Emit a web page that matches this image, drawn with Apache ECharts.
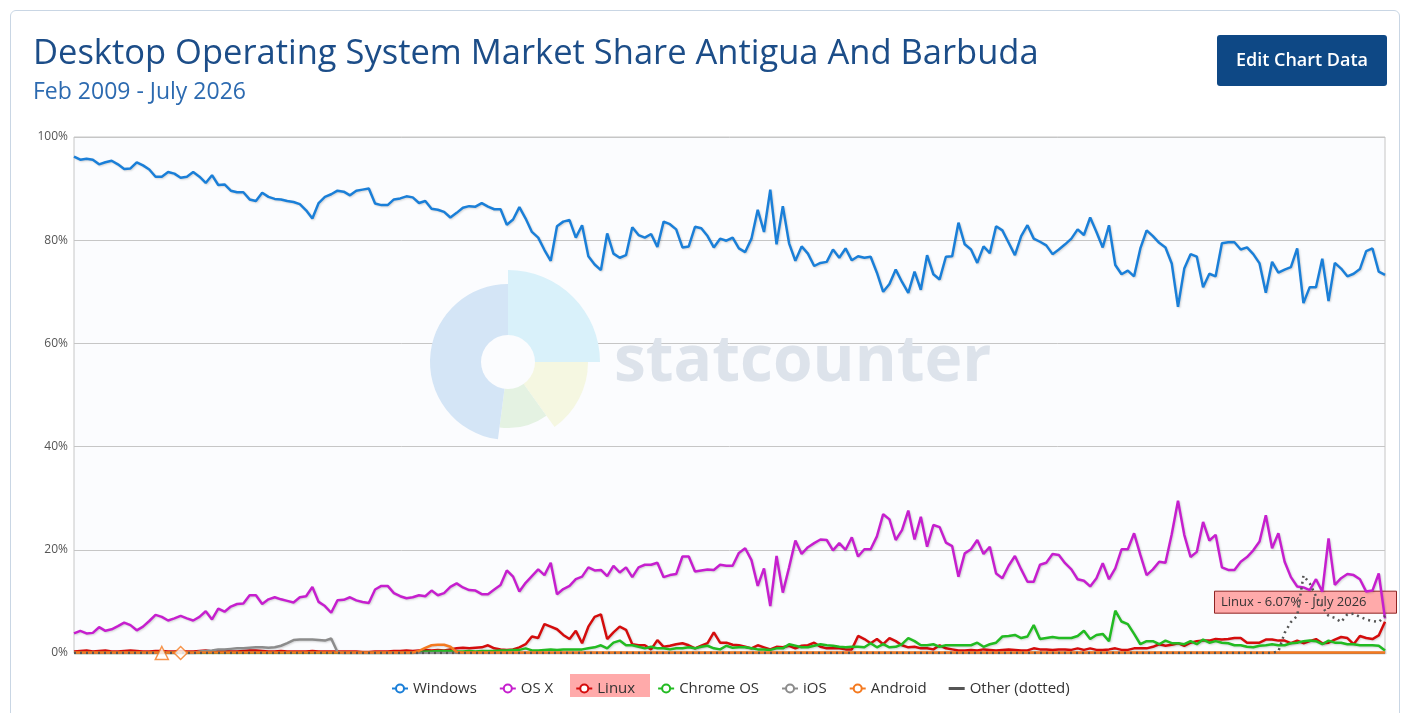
<!DOCTYPE html>
<html>
<head>
<meta charset="utf-8">
<script src="https://cdn.jsdelivr.net/npm/echarts@6.0.0/dist/echarts.min.js"></script>
<style>
  html, body { margin: 0; padding: 0; background: #fff; }
  #chart { width: 1410px; height: 713px; }
  #card {
    position: absolute; left: 10px; top: 10px; width: 1388px; height: 740px;
    border: 1px solid #c9d6e4; border-radius: 6px; pointer-events: none;
  }
</style>
</head>
<body>
<div id="chart"></div>
<div id="card"></div>
<script>
// month labels, Feb 2009 .. July 2026
const monthNames = ["Jan", "Feb", "Mar", "Apr", "May", "June", "July", "Aug", "Sept", "Oct", "Nov", "Dec"];
const months = [];
for (let y = 2009; y <= 2026; y++) {
  for (let m = 0; m < 12; m++) {
    if (y === 2009 && m < 1) continue;
    if (y === 2026 && m > 6) break;
    months.push(monthNames[m] + " " + y);
  }
}

const windows = [
  96.2, 95.6, 95.8, 95.6, 94.7, 95.1, 95.4, 94.7, 93.8, 93.9, 95.1, 94.5, 93.7, 92.3, 92.3, 93.2, 92.9, 92.1, 92.3, 93.2, 92.3, 91.1, 92.6, 90.7, 90.8, 89.6, 89.3, 89.3, 87.9, 87.6, 89.2, 88.4, 88.0, 87.9, 87.6, 87.4,
  87.0, 85.8, 84.2, 87.2, 88.4, 88.9, 89.6, 89.4, 88.7, 89.6, 89.8, 90.0, 87.1, 86.8, 86.8, 87.9, 88.1, 88.5, 88.3, 87.2, 87.6, 86.1, 85.9, 85.5, 84.4, 85.3, 86.3, 86.6, 86.5, 87.2, 86.5, 86.0, 86.0, 83.0, 84.0,
  86.4, 84.2, 81.6, 80.5, 78.1, 76.0, 82.7, 83.6, 83.9, 80.5, 82.9, 76.9, 75.3, 74.2, 81.3, 77.4, 76.6, 77.1, 82.5, 81.0, 80.5, 81.2, 78.7, 83.6, 83.1, 82.1, 78.6, 78.8, 82.6, 82.3, 80.8, 78.6, 80.3, 79.9, 80.5,
  78.4, 77.7, 80.3, 85.9, 81.6, 89.8, 79.2, 86.6, 79.4, 76.0, 78.8, 77.4, 75.0, 75.6, 75.8, 78.2, 76.6, 78.4, 76.1, 76.9, 76.6, 76.8, 73.7, 70.0, 71.5, 74.3, 71.9, 69.8, 73.9, 70.4, 77.1, 73.4, 72.4, 76.8, 76.9,
  83.4, 79.2, 78.2, 75.6, 78.8, 77.5, 82.7, 81.9, 79.5, 77.1, 80.8, 82.9, 80.3, 79.7, 79.0, 77.3, 78.2, 79.2, 80.3, 82.1, 81.0, 84.4, 81.6, 78.6, 82.9, 75.2, 73.4, 74.1, 73.0, 78.4, 81.9, 80.8, 79.5, 78.6, 75.5,
  67.1, 74.5, 77.3, 76.8, 70.9, 73.5, 73.0, 79.4, 79.6, 79.6, 78.2, 78.6, 77.3, 75.5, 69.8, 75.8, 73.7, 74.3, 74.8, 78.4, 67.8, 70.9, 70.9, 76.4, 68.2, 75.6, 74.5, 73.0, 73.5, 74.4, 77.9, 78.4, 73.9, 73.3
];

const osx = [
  3.8, 4.3, 3.8, 3.9, 5.0, 4.3, 4.6, 5.2, 5.9, 5.4, 4.4, 5.1, 6.2, 7.4, 7.0, 6.3, 6.7, 7.2, 6.7, 6.3, 7.0, 8.1, 6.5, 8.6, 8.0, 9.0, 9.5, 9.6, 11.2, 11.2, 9.5, 10.4, 10.8, 10.4, 10.1, 9.8,
  10.8, 11.0, 12.8, 9.9, 9.1, 7.8, 10.2, 10.3, 10.8, 10.2, 9.9, 9.7, 12.3, 13.0, 13.0, 11.6, 11.0, 10.6, 10.8, 11.2, 11.0, 12.1, 11.2, 11.6, 12.8, 13.5, 12.7, 12.2, 12.1, 11.4, 11.4, 12.3, 13.2, 16.0, 14.8,
  11.9, 13.6, 14.9, 16.2, 15.1, 17.5, 11.4, 12.4, 13.0, 14.3, 14.8, 16.6, 16.0, 16.1, 14.9, 16.9, 15.6, 16.6, 14.7, 16.6, 17.1, 17.1, 17.5, 14.7, 15.1, 15.3, 18.7, 18.7, 15.8, 16.0, 16.2, 16.1, 17.1, 16.9, 16.9,
  19.4, 20.3, 18.0, 13.0, 16.4, 9.1, 18.8, 11.7, 16.6, 21.8, 19.2, 20.5, 21.3, 22.0, 21.9, 19.9, 21.3, 20.0, 22.4, 18.7, 20.1, 20.1, 22.6, 26.9, 25.9, 21.9, 23.8, 27.6, 22.0, 26.4, 20.6, 24.8, 24.4, 21.4, 20.7,
  14.8, 19.3, 20.1, 21.9, 19.2, 20.6, 15.4, 14.5, 16.9, 18.8, 16.2, 13.8, 13.8, 17.1, 17.5, 19.2, 19.0, 17.4, 16.2, 14.3, 14.0, 12.9, 14.5, 17.4, 14.3, 16.4, 20.1, 20.1, 23.2, 19.0, 15.1, 16.2, 17.7, 17.5, 23.0,
  29.5, 22.9, 18.6, 19.6, 25.4, 21.8, 22.9, 16.6, 16.1, 16.1, 17.7, 18.6, 19.9, 21.6, 26.7, 20.3, 23.2, 17.7, 14.7, 12.9, 12.7, 12.2, 14.3, 11.9, 22.2, 13.2, 14.5, 15.3, 15.1, 14.3, 11.9, 12.1, 15.4, 6.7
];

const linux = [
  0.3, 0.4, 0.5, 0.3, 0.4, 0.5, 0.3, 0.3, 0.4, 0.5, 0.4, 0.3, 0.3, 0.4, 0.4, 0.3, 0.3, 0.4, 0.3, 0.3, 0.4, 0.5, 0.3, 0.4, 0.4, 0.3, 0.3, 0.4, 0.5, 0.5, 0.4, 0.3, 0.3, 0.4, 0.3, 0.3,
  0.3, 0.3, 0.4, 0.3, 0.3, 0.3, 0.3, 0.3, 0.3, 0.3, 0.2, 0.2, 0.3, 0.3, 0.3, 0.4, 0.4, 0.5, 0.4, 0.5, 0.6, 0.5, 0.6, 0.5, 0.7, 0.9, 1.0, 0.9, 1.0, 1.1, 1.5, 0.9, 0.7, 0.6, 0.7,
  1.1, 1.7, 3.2, 2.9, 5.6, 5.1, 4.6, 3.5, 2.7, 4.3, 1.9, 5.1, 7.0, 7.5, 2.7, 4.0, 5.1, 4.5, 1.7, 1.5, 1.5, 0.7, 2.5, 1.2, 1.4, 1.7, 1.9, 1.5, 0.9, 1.4, 1.9, 4.0, 2.0, 2.0, 1.6,
  1.5, 1.2, 0.9, 1.5, 1.1, 0.7, 1.2, 1.1, 1.4, 0.9, 1.4, 1.5, 2.0, 1.2, 0.9, 0.9, 0.9, 0.7, 0.7, 3.3, 2.7, 1.9, 2.7, 1.7, 2.9, 2.3, 1.5, 1.1, 1.2, 0.9, 0.9, 0.7, 1.5, 0.9, 0.7,
  0.5, 0.5, 0.6, 0.5, 0.7, 0.6, 0.5, 0.6, 0.7, 0.6, 0.5, 0.5, 0.9, 0.7, 0.7, 0.6, 0.7, 0.7, 0.6, 0.9, 0.6, 0.9, 0.6, 0.6, 0.7, 0.9, 0.6, 0.6, 0.9, 0.9, 0.9, 1.2, 1.7, 1.4, 1.6,
  1.9, 1.4, 2.0, 2.3, 2.4, 2.4, 2.7, 2.6, 2.7, 2.9, 2.9, 2.0, 2.0, 2.0, 2.6, 2.6, 2.4, 2.4, 1.9, 2.4, 1.9, 2.3, 2.7, 1.9, 2.0, 2.6, 3.1, 2.9, 1.7, 3.3, 2.9, 2.7, 3.4, 6.07
];

const chromeOs = [
  0, 0, 0, 0, 0, 0, 0, 0, 0, 0, 0, 0, 0, 0, 0, 0, 0, 0, 0, 0, 0, 0, 0, 0, 0, 0, 0, 0, 0, 0, 0, 0, 0, 0, 0,
  0, 0, 0, 0, 0, 0, 0, 0, 0, 0, 0, 0, 0, 0, 0, 0, 0, 0, 0, 0, 0.2, 0.3, 0.3, 0.4, 0.4, 0.4, 0.3, 0.3, 0.4, 0.3, 0.4, 0.4, 0.4, 0.5, 0.5,
  0.6, 0.6, 0.9, 0.5, 0.5, 0.6, 0.7, 0.6, 0.7, 0.7, 0.7, 0.7, 0.9, 1.1, 1.5, 0.9, 2.0, 2.4, 1.5, 1.5, 1.2, 0.9, 1.2, 0.9, 0.9, 0.7, 0.9, 0.9, 1.1, 0.9, 1.2, 1.4, 0.9, 0.7, 1.4, 1.0,
  1.1, 1.1, 0.9, 0.7, 0.7, 0.6, 0.9, 0.9, 1.7, 1.4, 1.1, 1.1, 1.4, 1.7, 1.5, 1.4, 1.2, 1.1, 1.2, 1.2, 1.1, 1.9, 1.1, 1.7, 1.1, 1.2, 1.7, 2.9, 2.3, 1.5, 1.5, 1.7, 1.2, 1.5, 1.5,
  1.5, 1.5, 1.5, 2.0, 1.2, 1.7, 2.0, 3.2, 3.3, 3.5, 2.9, 3.2, 5.4, 2.7, 2.9, 3.1, 2.9, 2.9, 2.9, 3.3, 4.3, 2.7, 3.5, 3.7, 2.3, 8.2, 6.1, 5.6, 3.7, 1.7, 2.3, 2.3, 1.7, 2.4, 1.9,
  1.9, 1.7, 2.3, 1.7, 2.6, 2.0, 2.3, 2.0, 1.9, 1.5, 1.5, 1.2, 1.1, 1.4, 1.5, 1.7, 1.5, 1.5, 1.9, 2.0, 2.3, 2.4, 2.3, 1.7, 2.4, 2.0, 2.0, 1.7, 1.7, 1.5, 1.5, 1.5, 1.4, 0.5
];

const ios = [
  0, 0, 0, 0, 0, 0, 0, 0, 0, 0, 0, 0, 0, 0, 0, 0, 0, 0, 0, 0, 0.3, 0.4, 0.5, 0.7, 0.7, 0.8, 0.9, 0.9, 1.0, 1.1, 1.1, 1.0, 1.1, 1.4, 1.9,
  2.5, 2.6, 2.6, 2.6, 2.5, 2.4, 2.8, 0.2, 0, 0, 0, 0, 0, 0, 0, 0, 0, 0, 0, 0, 0, 0, 0, 0, 0, 0, 0, 0, 0, 0, 0, 0, 0, 0, 0,
  0, 0, 0, 0, 0, 0, 0, 0, 0, 0, 0, 0, 0, 0, 0, 0, 0, 0, 0, 0, 0, 0, 0, 0, 0, 0, 0, 0, 0, 0, 0, 0, 0, 0, 0,
  0, 0, 0, 0, 0, 0, 0, 0, 0, 0, 0, 0, 0, 0, 0, 0, 0, 0, 0, 0, 0, 0, 0, 0, 0, 0, 0, 0, 0, 0, 0, 0, 0, 0, 0,
  0, 0, 0, 0, 0, 0, 0, 0, 0, 0, 0, 0, 0, 0, 0, 0, 0, 0, 0, 0, 0, 0, 0, 0, 0, 0, 0, 0, 0, 0, 0, 0, 0, 0, 0,
  0, 0, 0, 0, 0, 0, 0, 0, 0, 0, 0, 0, 0, 0, 0, 0, 0, 0, 0, 0, 0, 0, 0, 0, 0, 0, 0, 0, 0, 0, 0, 0, 0, 0, 0
];

const android = [
  0.1, 0.1, 0.1, 0.1, 0.1, 0.1, 0.1, 0.1, 0.1, 0.1, 0.1, 0.1, 0.1, 0.1, 0.1, 0.1, 0.1, 0.1, 0.1, 0.1, 0.1, 0.1, 0.1, 0.1, 0.1, 0.1, 0.1, 0.1, 0.1, 0.1, 0.1, 0.1, 0.1, 0.1, 0.1,
  0.1, 0.1, 0.1, 0.1, 0.1, 0.1, 0.1, 0.1, 0.1, 0.1, 0.1, 0.1, 0.1, 0.1, 0.1, 0.1, 0.1, 0.1, 0.1, 0.1, 0.4, 1.0, 1.5, 1.6, 1.6, 1.2, 0.2, 0.1, 0.1, 0.1, 0.1, 0.1, 0.1, 0.1, 0.1,
  0.1, 0.1, 0.1, 0.1, 0.1, 0.1, 0.1, 0.1, 0.1, 0.1, 0.1, 0.1, 0.1, 0.1, 0.1, 0.1, 0.1, 0.1, 0.1, 0.1, 0.1, 0.1, 0.1, 0.1, 0.1, 0.1, 0.1, 0.1, 0.1, 0.1, 0.1, 0.1, 0.1, 0.1, 0.1,
  0.1, 0.1, 0.1, 0.1, 0.1, 0.1, 0.1, 0.1, 0.1, 0.1, 0.1, 0.1, 0.1, 0.1, 0.1, 0.1, 0.1, 0.1, 0.1, 0.1, 0.1, 0.1, 0.1, 0.1, 0.1, 0.1, 0.1, 0.1, 0.1, 0.1, 0.1, 0.1, 0.1, 0.1, 0.1,
  0.1, 0.1, 0.1, 0.1, 0.1, 0.1, 0.1, 0.1, 0.1, 0.1, 0.1, 0.1, 0.1, 0.1, 0.1, 0.1, 0.1, 0.1, 0.1, 0.1, 0.1, 0.1, 0.1, 0.1, 0.1, 0.1, 0.1, 0.1, 0.1, 0.1, 0.1, 0.1, 0.1, 0.1, 0.1,
  0.1, 0.1, 0.1, 0.1, 0.1, 0.1, 0.1, 0.1, 0.1, 0.1, 0.1, 0.1, 0.1, 0.1, 0.1, 0.1, 0.1, 0.1, 0.1, 0.1, 0.1, 0.1, 0.1, 0.1, 0.1, 0.1, 0.1, 0.1, 0.1, 0.1, 0.1, 0.1, 0.1, 0.1, 0.1
];

const other = [
  0, 0, 0, 0, 0, 0, 0, 0, 0, 0, 0, 0, 0, 0, 0, 0, 0, 0, 0, 0, 0, 0, 0, 0, 0, 0, 0, 0, 0, 0, 0, 0, 0, 0, 0,
  0, 0, 0, 0, 0, 0, 0, 0, 0, 0, 0, 0, 0, 0, 0, 0, 0, 0, 0, 0, 0, 0, 0, 0, 0, 0, 0, 0, 0, 0, 0, 0, 0, 0, 0,
  0, 0, 0, 0, 0, 0, 0, 0, 0, 0, 0, 0, 0, 0, 0, 0, 0, 0, 0, 0, 0, 0, 0, 0, 0, 0, 0, 0, 0, 0, 0, 0, 0, 0, 0,
  0, 0, 0, 0, 0, 0, 0, 0, 0, 0, 0, 0, 0, 0, 0, 0, 0, 0, 0, 0, 0, 0, 0, 0, 0, 0, 0, 0, 0, 0, 0, 0, 0, 0, 0,
  0, 0, 0, 0, 0, 0, 0, 0, 0, 0, 0, 0, 0, 0, 0, 0, 0, 0, 0, 0, 0, 0, 0, 0, 0, 0, 0, 0, 0, 0, 0, 0, 0, 0, 0,
  0, 0, 0, 0, 0, 0, 0, 0, 0, 0, 0, 0, 0, 0, 0, 0, 0, 0.3, 3.9, 6.0, 7.2, 15.0, 13.5, 11.0, 9.0, 7.2, 6.8, 6.0, 7.5, 7.6, 7.0, 6.5, 6.2, 6.0, 7.2
];

// isolated points drawn as markers on the baseline
const markerPoints = [["Apr 2010", 0], ["July 2010", 0]];
const markerSymbols = ["triangle", "diamond"];

const yTicks = { min: 0, max: 100, interval: 20 };

const font = "'Open Sans', 'DejaVu Sans', sans-serif";

function lineSeries(name, data, color, extra) {
  return Object.assign({
    name: name,
    type: "line",
    data: data,
    symbol: "emptyCircle",
    symbolSize: 9,
    showSymbol: false,
    lineStyle: {
      width: 2.5, color: color,
      shadowColor: "rgba(0,0,0,0.16)", shadowBlur: 2, shadowOffsetX: 1, shadowOffsetY: 1
    },
    itemStyle: { color: color, borderWidth: 2 },
    emphasis: { disabled: true }
  }, extra || {});
}

const chart = echarts.init(document.getElementById("chart"), null, { renderer: "canvas" });

chart.setOption({
  animation: false,
  backgroundColor: "#ffffff",
  textStyle: { fontFamily: font },
  title: [
    {
      text: "Desktop Operating System Market Share Antigua And Barbuda",
      left: 33, top: 37, padding: 0,
      textStyle: { fontFamily: font, fontSize: 34.5, fontWeight: "normal", color: "#1c4d88" }
    },
    {
      text: "Feb 2009 - July 2026",
      left: 33, top: 81, padding: 0,
      textStyle: { fontFamily: font, fontSize: 23, fontWeight: "normal", color: "#2c6ab0" }
    }
  ],
  grid: {
    left: 74, right: 25, top: 137, bottom: 60,
    show: true, backgroundColor: "#fbfcfe", borderColor: "#c6c6c6", borderWidth: 1
  },
  legend: {
    top: 676,
    left: 386,
    itemWidth: 16,
    itemHeight: 10,
    itemGap: 22,
    selectedMode: false,
    textStyle: { fontFamily: font, fontSize: 15, color: "#333" },
    data: [
      "Windows", "OS X", "Linux", "Chrome OS", "iOS", "Android",
      { name: "Other (dotted)", icon: "path://M0,0 L16,0 L16,3 L0,3 Z" }
    ]
  },
  xAxis: {
    type: "category",
    data: months,
    boundaryGap: false,
    axisLabel: { show: false },
    axisTick: { show: false },
    axisLine: { show: false },
    splitLine: { show: false }
  },
  yAxis: {
    type: "value",
    min: yTicks.min,
    max: yTicks.max,
    interval: yTicks.interval,
    axisLabel: { formatter: "{value}%", color: "#555", fontSize: 12, margin: 6, fontFamily: font },
    axisLine: { show: false },
    axisTick: { show: false },
    splitLine: { lineStyle: { color: "#c6c6c6" } }
  },
  series: [
    lineSeries("Windows", windows, "#1a7fd8"),
    lineSeries("OS X", osx, "#c61fce"),
    lineSeries("Linux", linux, "#d40c0c"),
    lineSeries("Chrome OS", chromeOs, "#22bb22"),
    lineSeries("iOS", ios, "#8c8c8c"),
    lineSeries("Android", android, "#f47a20"),
    lineSeries("Other (dotted)", other, "#555555", {
      symbol: "none",
      lineStyle: { width: 2.5, color: "#555555", type: [2, 4] }
    }),
    {
      name: "markers",
      type: "scatter",
      data: markerPoints.map(function (p, i) {
        return { value: p, symbol: markerSymbols[i] };
      }),
      symbolSize: [13, 13],
      itemStyle: { color: "#ffffff", borderColor: "#f47a20", borderWidth: 1.5 },
      silent: true,
      z: 5
    }
  ]
});

// hover label for the last Linux point, placed from the data position
const lastIdx = linux.length - 1;
const tipText = "Linux - " + linux[lastIdx].toFixed(2) + "% - " + months[lastIdx];
const pt = chart.convertToPixel({ gridIndex: 0 }, [months[lastIdx], linux[lastIdx]]);
const tipW = 182, tipH = 22;

chart.setOption({
  graphic: [
    // statcounter watermark
    { id: "wm1", type: "sector", z: 1, silent: true, shape: { cx: 508, cy: 362, r: 92, r0: 0, startAngle: -Math.PI / 2, endAngle: 0 }, style: { fill: "#d9f1fa" } },
    { id: "wm2", type: "sector", z: 1, silent: true, shape: { cx: 508, cy: 362, r: 80, r0: 0, startAngle: 0, endAngle: 0.95 }, style: { fill: "#f5f7e1" } },
    { id: "wm3", type: "sector", z: 1, silent: true, shape: { cx: 508, cy: 362, r: 66, r0: 0, startAngle: 0.95, endAngle: 1.7 }, style: { fill: "#e4f2e2" } },
    { id: "wm4", type: "sector", z: 1, silent: true, shape: { cx: 508, cy: 362, r: 78, r0: 0, startAngle: 1.7, endAngle: Math.PI * 1.5 }, style: { fill: "#d4e5f6" } },
    { id: "wm5", type: "circle", z: 1, silent: true, shape: { cx: 508, cy: 362, r: 27 }, style: { fill: "#fbfcfe" } },
    {
      id: "wmText", type: "text", z: 1, silent: true, left: 614, top: 331,
      style: { text: "statcounter", fill: "#dde3eb", font: "bold 64px " + font }
    },
    // Edit Chart Data button
    {
      id: "button", type: "group", left: 1217, top: 35,
      children: [
        { id: "buttonBox", type: "rect", shape: { x: 0, y: 0, width: 170, height: 51, r: 3 }, style: { fill: "#0e4885" } },
        { id: "buttonText", type: "text", style: { text: "Edit Chart Data", x: 85, y: 26, align: "center", verticalAlign: "middle", fill: "#ffffff", font: "600 18px " + font } }
      ]
    },
    // hovered legend item highlight
    { id: "legendHover", type: "rect", z: 0, silent: true, shape: { x: 570, y: 674, width: 80, height: 23 }, style: { fill: "#ffaaaa" } },
    // hover label
    {
      id: "tip", type: "group", z: 100, silent: true,
      left: pt[0] + 11 - tipW, top: pt[1] - 31,
      children: [
        { id: "tipBox", type: "rect", shape: { x: 0.5, y: 0.5, width: tipW, height: tipH }, style: { fill: "#ffaaaa", stroke: "#8e2323", lineWidth: 1 } },
        { id: "tipText", type: "text", style: { text: tipText, x: 7, y: tipH / 2 + 1, verticalAlign: "middle", fill: "#333", font: "13px " + font } }
      ]
    }
  ]
});
</script>
</body>
</html>
